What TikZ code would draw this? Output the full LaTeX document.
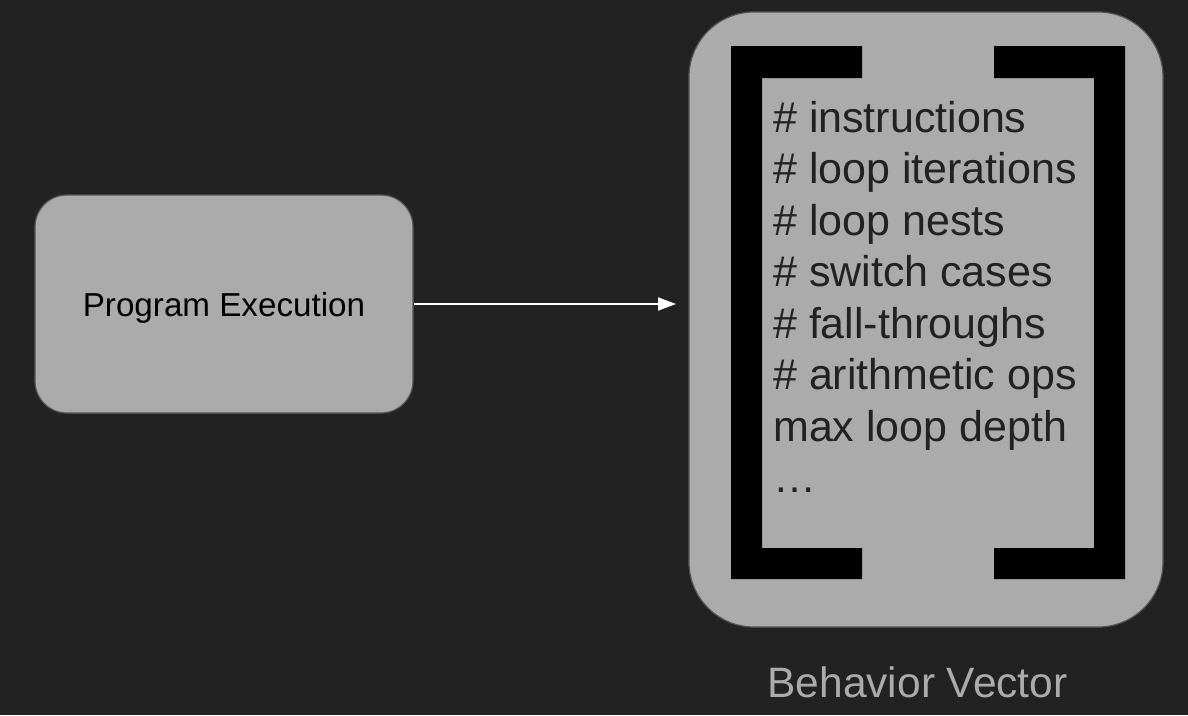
\documentclass[tikz,border=0pt]{standalone}
\usepackage{fontspec}
\setmainfont{Liberation Sans}
\usetikzlibrary{arrows.meta}
\definecolor{bg}{HTML}{222222}
\definecolor{boxgray}{HTML}{ABABAB}
\definecolor{edgegray}{HTML}{555555}
\definecolor{listtext}{HTML}{222222}
\begin{document}
\begin{tikzpicture}[x=1pt,y=-1pt,
  boxstyle/.style={draw=edgegray,line width=1.2pt,fill=boxgray,inner sep=0pt},
  itemtext/.style={anchor=base west,inner sep=0pt,text=listtext,font=\fontsize{43}{51.5}\selectfont},
  bracketfill/.style={fill=black},
  flow/.style={draw=white,line width=1.6pt,-{Triangle[length=18pt,width=13pt]}}]
\fill[bg] (0,0) rectangle (1188,715);
\useasboundingbox (0,0) rectangle (1188,715);
% left box
\node[boxstyle,rounded corners=32pt,minimum width=378pt,minimum height=218pt,text depth=0pt,
  font=\fontsize{33.2}{40}\selectfont,text=black] (prog) at (224,304) {Program Execution};
% right box
\node[boxstyle,rounded corners=65pt,minimum width=474pt,minimum height=615pt] (vec) at (926,319.5) {};
% brackets
\fill[bracketfill] (731,46) -- (862,46) -- (862,78) -- (762,78) -- (762,548) -- (862,548) -- (862,579) -- (731,579) -- cycle;
\fill[bracketfill] (1125,46) -- (994,46) -- (994,78) -- (1094,78) -- (1094,548) -- (994,548) -- (994,579) -- (1125,579) -- cycle;
% list
\node[itemtext] (i1) at (773,132) {\# instructions};
\node[itemtext] (i2) at (773,183.5) {\# loop iterations};
\node[itemtext] (i3) at (773,235) {\# loop nests};
\node[itemtext] (i4) at (773,286.5) {\# switch cases};
\node[itemtext] (i5) at (773,338) {\# fall-throughs};
\node[itemtext] (i6) at (773,389.5) {\# arithmetic ops};
\node[itemtext] (i7) at (773,441) {max loop depth};
\node[itemtext] (i8) at (773,492.5) {…};
% caption
\node[anchor=base,inner sep=0pt,text=boxgray,font=\fontsize{42.5}{50}\selectfont] (cap) at (917.5,697) {Behavior Vector};
% arrow
\coordinate (tip) at (676,304);
\draw[flow] (prog.east) -- (tip);
\end{tikzpicture}
\end{document}
